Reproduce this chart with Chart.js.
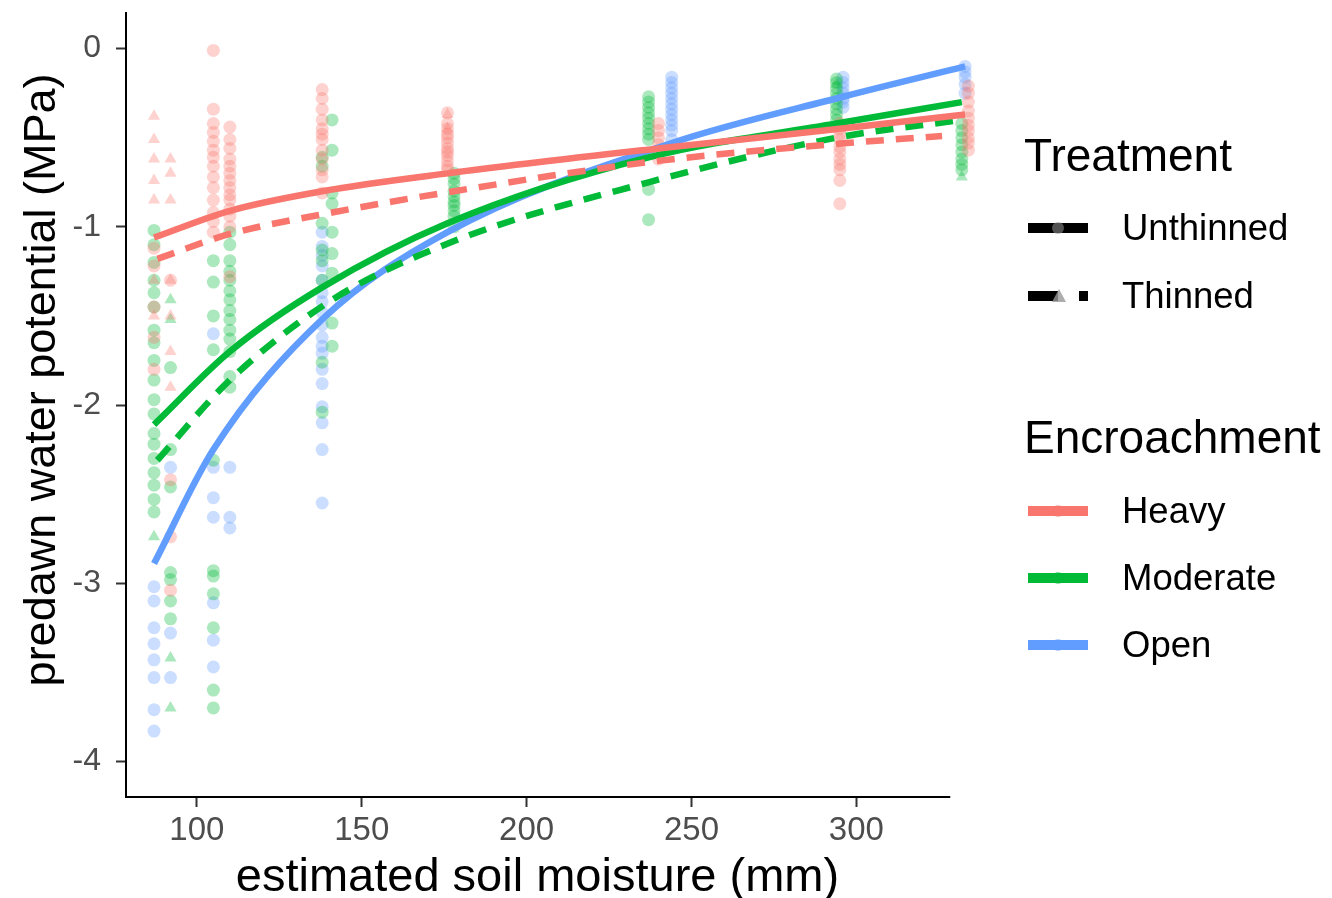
<!DOCTYPE html>
<html>
<head>
<meta charset="utf-8">
<script src="https://cdn.jsdelivr.net/npm/chart.js@4"></script>
<style>
  html, body { margin: 0; padding: 0; background: #fff; }
  #wrap { position: relative; width: 1332px; height: 898px; font-family: 'Liberation Sans', Arial, sans-serif; }
  #chart { position: absolute; left: 0; top: 0; }
  .lg-title { position: absolute; left: 1024px; font-size: 46px; color: #000; line-height: 1; }
  .lg-item { position: absolute; left: 1028px; height: 40px; display: flex; align-items: center; }
  .lg-item span { margin-left: 34px; font-size: 36.5px; color: #000; }
</style>
</head>
<body>
<div id="wrap">
  <canvas id="chart" width="1332" height="898"></canvas>

  <div class="lg-title" style="top:132px">Treatment</div>
  <div class="lg-item" style="top:208px">
    <svg width="60" height="20"><rect x="0" y="5" width="60" height="10" fill="#000"/><circle cx="30" cy="10" r="6" fill="#888" opacity="0.6"/></svg>
    <span>Unthinned</span>
  </div>
  <div class="lg-item" style="top:276px">
    <svg width="60" height="20"><rect x="0" y="5" width="30" height="10" fill="#000"/><polygon points="24,16 31,3 38,16" fill="#999" opacity="0.8"/><rect x="51" y="5" width="9" height="10" fill="#000"/></svg>
    <span>Thinned</span>
  </div>

  <div class="lg-title" style="top:414px">Encroachment</div>
  <div class="lg-item" style="top:491px">
    <svg width="60" height="20"><rect x="0" y="5" width="60" height="10" fill="#F8766D"/><circle cx="30" cy="10" r="6" fill="#F8766D" opacity="0.5"/></svg>
    <span>Heavy</span>
  </div>
  <div class="lg-item" style="top:558px">
    <svg width="60" height="20"><rect x="0" y="5" width="60" height="10" fill="#00BA38"/><circle cx="30" cy="10" r="6" fill="#00BA38" opacity="0.5"/></svg>
    <span>Moderate</span>
  </div>
  <div class="lg-item" style="top:625px">
    <svg width="60" height="20"><rect x="0" y="5" width="60" height="10" fill="#619CFF"/><circle cx="30" cy="10" r="6" fill="#619CFF" opacity="0.5"/></svg>
    <span>Open</span>
  </div>
</div>

<script>
// axis ticks
const xTicks = [100, 150, 200, 250, 300];
const yTicks = [0, -1, -2, -3, -4];
const xAxisLineEnd = 328.5; // x axis line stops short of the last column

// fitted curves (soil moisture -> predawn water potential)
const heavyUnthinnedX = [87, 110, 138, 176, 240, 295, 333];
const heavyUnthinnedY = [-1.06, -0.91, -0.80, -0.70, -0.56, -0.45, -0.37];
const heavyThinnedX = [88, 110, 141, 178, 240, 297, 326];
const heavyThinnedY = [-1.18, -1.04, -0.92, -0.80, -0.63, -0.53, -0.49];
const moderateUnthinnedX = [87, 110, 138, 176, 237, 294, 332];
const moderateUnthinnedY = [-2.11, -1.70, -1.34, -0.98, -0.61, -0.42, -0.30];
const moderateThinnedX = [88, 110, 141, 178, 237, 294, 332];
const moderateThinnedY = [-2.31, -1.86, -1.41, -1.08, -0.75, -0.50, -0.40];
const openUnthinnedX = [87, 105, 138, 176, 244, 296, 333];
const openUnthinnedY = [-2.89, -2.25, -1.52, -1.03, -0.53, -0.27, -0.10];

// observations, [soil moisture, water potential]
const heavyCircles = [
  [87, -1.12], [87, -1.22], [87, -1.45], [87, -1.62], [87, -1.80],
  [92, -1.30], [92, -2.42], [92, -2.74], [92, -3.04],
  [105, -0.01], [105, -0.34], [105, -0.42], [105, -0.47], [105, -0.52], [105, -0.57], [105, -0.61], [105, -0.66],
  [105, -0.72], [105, -0.78], [105, -0.85], [105, -0.92], [105, -0.97], [105, -1.03],
  [110, -0.44], [110, -0.51], [110, -0.56], [110, -0.62], [110, -0.66], [110, -0.70], [110, -0.74], [110, -0.78],
  [110, -0.82], [110, -0.85], [110, -0.90], [110, -0.94], [110, -1.00], [110, -1.28],
  [138, -0.23], [138, -0.28], [138, -0.34], [138, -0.40], [138, -0.45], [138, -0.48], [138, -0.51], [138, -0.57],
  [138, -0.62], [138, -0.68], [138, -0.72], [138, -0.81],
  [176, -0.36], [176, -0.42], [176, -0.45], [176, -0.48], [176, -0.50], [176, -0.53], [176, -0.56], [176, -0.58],
  [176, -0.60], [176, -0.63], [176, -0.66], [176, -0.68],
  [240, -0.42], [240, -0.46], [240, -0.50], [240, -0.54], [240, -0.57], [240, -0.62],
  [295, -0.42], [295, -0.45], [295, -0.48], [295, -0.51], [295, -0.55], [295, -0.58], [295, -0.62], [295, -0.65],
  [295, -0.68], [295, -0.74], [295, -0.87],
  [334, -0.21], [334, -0.25], [334, -0.30], [334, -0.35], [334, -0.39], [334, -0.43], [334, -0.46], [334, -0.50],
  [334, -0.53], [334, -0.57]
];
const heavyTriangles = [
  [87, -0.38], [87, -0.51], [87, -0.62], [87, -0.74], [87, -0.85], [87, -1.30], [87, -1.50],
  [92, -0.62], [92, -0.70], [92, -0.85], [92, -1.30], [92, -1.50], [92, -1.70], [92, -1.90],
  [176, -0.37], [176, -0.45]
];
const moderateCircles = [
  [87, -1.02], [87, -1.10], [87, -1.20], [87, -1.30], [87, -1.37], [87, -1.45], [87, -1.58], [87, -1.65], [87, -1.75],
  [87, -1.86], [87, -1.97], [87, -2.05], [87, -2.16], [87, -2.22], [87, -2.30], [87, -2.38], [87, -2.45], [87, -2.53], [87, -2.60],
  [92, -1.79], [92, -2.25], [92, -2.46], [92, -2.94], [92, -2.98], [92, -3.10], [92, -3.20],
  [105, -1.19], [105, -1.31], [105, -1.50], [105, -1.69], [105, -2.31], [105, -2.93], [105, -2.96], [105, -3.06],
  [105, -3.25], [105, -3.60], [105, -3.70],
  [110, -1.03], [110, -1.10], [110, -1.19], [110, -1.25], [110, -1.30], [110, -1.36], [110, -1.41], [110, -1.47],
  [110, -1.52], [110, -1.58], [110, -1.63], [110, -1.70], [110, -1.84], [110, -1.90],
  [138, -0.61], [138, -0.66], [138, -0.98], [138, -1.13], [138, -1.19], [138, -1.30], [138, -1.76], [138, -2.04],
  [141, -0.40], [141, -0.57], [141, -0.81], [141, -0.87], [141, -1.03], [141, -1.15], [141, -1.26], [141, -1.54], [141, -1.67],
  [178, -0.70], [178, -0.73], [178, -0.76], [178, -0.80], [178, -0.83], [178, -0.86], [178, -0.88], [178, -0.91],
  [178, -0.94], [178, -1.00],
  [237, -0.27], [237, -0.30], [237, -0.33], [237, -0.36], [237, -0.39], [237, -0.42], [237, -0.45], [237, -0.48],
  [237, -0.51], [237, -0.79], [237, -0.96],
  [294, -0.17], [294, -0.19], [294, -0.22], [294, -0.25], [294, -0.28], [294, -0.31], [294, -0.34], [294, -0.37], [294, -0.40],
  [332, -0.42], [332, -0.46], [332, -0.50], [332, -0.54], [332, -0.58], [332, -0.62], [332, -0.65], [332, -0.68]
];
const moderateTriangles = [
  [87, -2.74], [92, -1.41], [92, -1.52], [92, -3.42], [92, -3.70], [294, -0.20], [332, -0.72]
];
const openCircles = [
  [87, -3.02], [87, -3.10], [87, -3.25], [87, -3.34], [87, -3.43], [87, -3.53], [87, -3.71], [87, -3.83],
  [92, -2.35], [92, -3.28], [92, -3.53],
  [105, -1.60], [105, -2.35], [105, -2.52], [105, -2.63], [105, -3.11], [105, -3.32], [105, -3.47],
  [110, -2.35], [110, -2.63], [110, -2.69],
  [138, -1.03], [138, -1.11], [138, -1.16], [138, -1.22], [138, -1.30], [138, -1.37], [138, -1.42], [138, -1.48],
  [138, -1.55], [138, -1.62], [138, -1.67], [138, -1.71], [138, -1.80], [138, -1.88], [138, -2.01], [138, -2.10],
  [138, -2.25], [138, -2.55],
  [244, -0.16], [244, -0.19], [244, -0.22], [244, -0.25], [244, -0.28], [244, -0.31], [244, -0.34], [244, -0.37],
  [244, -0.40], [244, -0.43], [244, -0.46], [244, -0.51],
  [296, -0.16], [296, -0.19], [296, -0.22], [296, -0.25], [296, -0.28], [296, -0.30], [296, -0.33],
  [333, -0.10], [333, -0.13], [333, -0.16], [333, -0.20], [333, -0.25]
];

const RED = '#F8766D', GREEN = '#00BA38', BLUE = '#619CFF';
const toPts = (xs, ys) => xs.map((x, i) => ({ x: x, y: ys[i] }));
const toXY = arr => arr.map(p => ({ x: p[0], y: p[1] }));

function alpha(hex, a) {
  const n = parseInt(hex.slice(1), 16);
  return 'rgba(' + (n >> 16) + ',' + ((n >> 8) & 255) + ',' + (n & 255) + ',' + a + ')';
}

function fitLine(xs, ys, color, dashed) {
  return {
    data: toPts(xs, ys),
    showLine: true,
    borderColor: color,
    borderWidth: 6.5,
    borderDash: dashed ? [18, 12] : [],
    pointRadius: 0,
    cubicInterpolationMode: 'monotone',
    clip: false,
    order: 0
  };
}

function points(arr, color, style) {
  return {
    data: toXY(arr),
    pointStyle: style,
    pointRadius: style === 'triangle' ? 7 : 6.5,
    backgroundColor: alpha(color, 0.33),
    borderWidth: 0,
    showLine: false,
    clip: false,
    order: 1
  };
}

// x axis line drawn by hand so it can stop before the chart area edge
const xAxisLine = {
  id: 'xAxisLine',
  afterDraw(chart) {
    const c = chart.ctx, a = chart.chartArea;
    const xEnd = chart.scales.x.getPixelForValue(xAxisLineEnd);
    c.save();
    c.strokeStyle = '#000';
    c.lineWidth = 2;
    c.beginPath();
    c.moveTo(a.left - 1, a.bottom);
    c.lineTo(xEnd, a.bottom);
    c.stroke();
    c.restore();
  }
};

const ctx = document.getElementById('chart').getContext('2d');
new Chart(ctx, {
  type: 'scatter',
  data: {
    datasets: [
      points(heavyCircles, RED, 'circle'),
      points(heavyTriangles, RED, 'triangle'),
      points(moderateCircles, GREEN, 'circle'),
      points(moderateTriangles, GREEN, 'triangle'),
      points(openCircles, BLUE, 'circle'),
      fitLine(heavyUnthinnedX, heavyUnthinnedY, RED, false),
      fitLine(heavyThinnedX, heavyThinnedY, RED, true),
      fitLine(moderateUnthinnedX, moderateUnthinnedY, GREEN, false),
      fitLine(moderateThinnedX, moderateThinnedY, GREEN, true),
      fitLine(openUnthinnedX, openUnthinnedY, BLUE, false)
    ]
  },
  plugins: [xAxisLine],
  options: {
    responsive: false,
    animation: false,
    layout: { padding: { top: 13, right: 357, left: 0, bottom: 0 } },
    plugins: { legend: { display: false }, tooltip: { enabled: false } },
    scales: {
      x: {
        type: 'linear',
        min: 78.5,
        max: 336,
        afterBuildTicks: s => { s.ticks = xTicks.map(v => ({ value: v })); },
        afterFit: s => { s.height = 101; s.paddingLeft = 0; s.paddingRight = 0; },
        border: { display: false },
        grid: { drawOnChartArea: false, drawTicks: true, tickLength: 10, tickColor: '#333', tickWidth: 2 },
        ticks: { color: '#4d4d4d', font: { family: 'Liberation Sans', size: 33 }, padding: 4 },
        title: {
          display: true,
          text: 'estimated soil moisture (mm)  ',
          color: '#000',
          font: { family: 'Liberation Sans', size: 47, lineHeight: 0.85 },
          padding: { top: 0, bottom: 0 }
        }
      },
      y: {
        type: 'linear',
        min: -4.2,
        max: 0.2,
        afterBuildTicks: s => { s.ticks = yTicks.map(v => ({ value: v })); },
        afterFit: s => { s.width = 126; s.paddingTop = 0; s.paddingBottom = 0; },
        border: { display: true, color: '#000', width: 2 },
        grid: { drawOnChartArea: false, drawTicks: true, tickLength: 10, tickColor: '#333', tickWidth: 2 },
        ticks: { color: '#4d4d4d', font: { family: 'Liberation Sans', size: 32 }, padding: 15 },
        title: {
          display: true,
          text: '    predawn water potential (MPa)',
          color: '#000',
          font: { family: 'Liberation Sans', size: 45, lineHeight: 1 },
          padding: { top: 20, bottom: 0 }
        }
      }
    }
  }
});
</script>
</body>
</html>
